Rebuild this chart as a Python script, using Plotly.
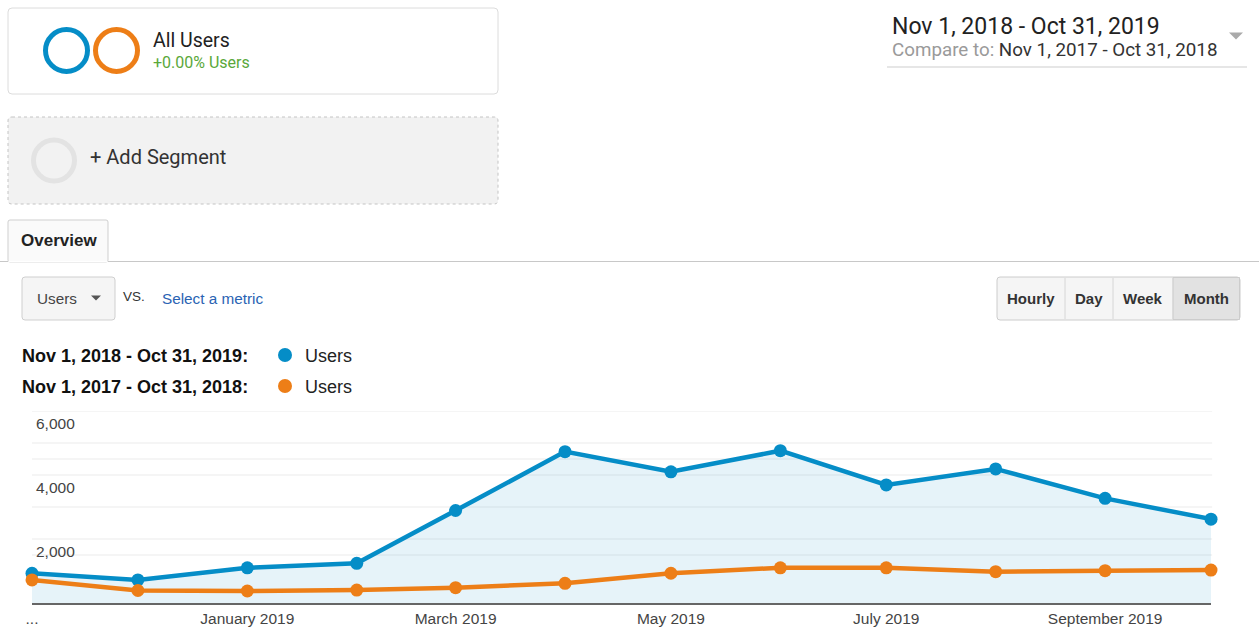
import plotly.graph_objects as go

# ---------------- data ----------------
months = ["2018-11-01", "2018-12-01", "2019-01-01", "2019-02-01", "2019-03-01", "2019-04-01",
          "2019-05-01", "2019-06-01", "2019-07-01", "2019-08-01", "2019-09-01", "2019-10-01"]
users_current = [930, 720, 1100, 1240, 2890, 4730, 4100, 4760, 3690, 4190, 3270, 2620]
users_previous = [720, 390, 375, 405, 480, 615, 930, 1100, 1100, 980, 1010, 1030]

tick_dates = ["2018-11-01", "2019-01-01", "2019-03-01", "2019-05-01", "2019-07-01", "2019-09-01"]
tick_text = ["...", "January 2019", "March 2019", "May 2019", "July 2019", "September 2019"]
y_label_vals = [2000, 4000, 6000]
y_label_text = ["2,000", "4,000", "6,000"]
grid_vals = [1500, 2000, 3000, 4000, 4500, 5000, 6000]

label_current = "Nov 1, 2018 - Oct 31, 2019:"
label_previous = "Nov 1, 2017 - Oct 31, 2018:"
metric = "Users"

BLUE = "#058DC7"
ORANGE = "#ED7E17"
ARIAL = "Liberation Sans, Arial, sans-serif"
ROBOTO = "Roboto, sans-serif"

W, H = 1259, 631
L, R, T, B = 32, 1211, 411, 603
PW, PH = R - L, B - T


def PX(x):
    return (x - L) / PW


def PY(y):
    return (B - y) / PH


fig = go.Figure()

fig.add_trace(go.Scatter(
    x=months, y=users_current, mode="lines+markers", name="current",
    line=dict(color=BLUE, width=4.5), marker=dict(size=13, color=BLUE),
    fill="tozeroy", fillcolor="rgba(5,141,199,0.1)", cliponaxis=False,
    showlegend=False, hoverinfo="skip"))
fig.add_trace(go.Scatter(
    x=months, y=users_previous, mode="lines+markers", name="previous",
    line=dict(color=ORANGE, width=4.5), marker=dict(size=13, color=ORANGE),
    cliponaxis=False, showlegend=False, hoverinfo="skip"))

shapes = []
annotations = []

# gridlines in data coordinates
for gv in grid_vals:
    shapes.append(dict(type="line", xref="paper", yref="y", x0=0, x1=1.001, y0=gv, y1=gv,
                       line=dict(color="#ebebeb", width=1), layer="below"))


def rect(x0, y0, x1, y1, fill, line, lw=1, dash="solid", r=0, layer="below"):
    if r == 0:
        shapes.append(dict(type="rect", xref="paper", yref="paper",
                           x0=PX(x0), x1=PX(x1), y0=PY(y1), y1=PY(y0),
                           fillcolor=fill, line=dict(color=line, width=lw, dash=dash),
                           layer=layer))
    else:
        pts = [
            ("M", x0 + r, y0), ("L", x1 - r, y0), ("Q", (x1, y0), (x1, y0 + r)),
            ("L", x1, y1 - r), ("Q", (x1, y1), (x1 - r, y1)), ("L", x0 + r, y1),
            ("Q", (x0, y1), (x0, y1 - r)), ("L", x0, y0 + r), ("Q", (x0, y0), (x0 + r, y0)),
        ]
        p = ""
        for item in pts:
            if item[0] == "Q":
                (cx, cy), (ex, ey) = item[1], item[2]
                p += f"Q{PX(cx)},{PY(cy)} {PX(ex)},{PY(ey)} "
            else:
                p += f"{item[0]}{PX(item[1])},{PY(item[2])} "
        p += "Z"
        shapes.append(dict(type="path", xref="paper", yref="paper", path=p,
                           fillcolor=fill, line=dict(color=line, width=lw, dash=dash),
                           layer=layer))


def line(x0, y0, x1, y1, color, lw=1):
    shapes.append(dict(type="line", xref="paper", yref="paper",
                       x0=PX(x0), x1=PX(x1), y0=PY(y0), y1=PY(y1),
                       line=dict(color=color, width=lw), layer="below"))


def circle(cx, cy, r, color, lw=0, fill=None):
    shapes.append(dict(type="circle", xref="paper", yref="paper",
                       x0=PX(cx - r), x1=PX(cx + r), y0=PY(cy + r), y1=PY(cy - r),
                       fillcolor=fill if fill else "rgba(0,0,0,0)",
                       line=dict(color=color, width=lw), layer="above"))


def tri(cx, cy, w, h, color):
    p = f"M{PX(cx - w / 2)},{PY(cy - h / 2)} L{PX(cx + w / 2)},{PY(cy - h / 2)} L{PX(cx)},{PY(cy + h / 2)} Z"
    shapes.append(dict(type="path", xref="paper", yref="paper", path=p,
                       fillcolor=color, line=dict(width=0), layer="above"))


def text(x, y, s, size, color="#333", family=ARIAL, anchor="left", bold=False):
    if bold:
        s = f"<b>{s}</b>"
    annotations.append(dict(xref="paper", yref="paper", x=PX(x), y=PY(y), text=s,
                            showarrow=False, xanchor=anchor, yanchor="middle",
                            font=dict(size=size, color=color, family=family),
                            borderpad=0))


# --- segment box ---
rect(8, 8, 498, 94, "#ffffff", "#dcdcdc", r=4)
circle(66.5, 50.5, 21, BLUE, lw=5)
circle(116.5, 50.5, 21, ORANGE, lw=5)
text(152, 40, "All Users", 19.5, "#222", ROBOTO)
text(152, 62, "+0.00% Users", 16, "#5aa83a", ROBOTO)

# --- add segment ---
rect(8, 117, 498, 204, "#f2f2f2", "#c4c4c4", dash="dot", r=4)
circle(54, 160.5, 20.5, "#e3e3e3", lw=5)
text(89, 157, "+ Add Segment", 20, "#333", ROBOTO)

# --- date range ---
text(891, 26, "Nov 1, 2018 - Oct 31, 2019", 23, "#222", ROBOTO)
text(891, 50, "<span style='color:#9a9a9a'>Compare to: </span>Nov 1, 2017 - Oct 31, 2018", 18.8, "#333", ROBOTO)
tri(1236, 36, 14, 7, "#aaaaaa")
line(887, 67, 1247, 67, "#e6e6e6", 2)

# --- overview tab ---
line(0, 261.5, 8, 261.5, "#c8c8c8", 1)
line(108, 261.5, W, 261.5, "#c8c8c8", 1)
rect(8, 220, 108, 262, "#fafafa", "#cfcfcf", r=2)
line(8.5, 261.5, 107.5, 261.5, "#ffffff", 1.5)
text(20, 240, "Overview", 17, "#222", ARIAL, bold=True)

# --- metric selector ---
rect(22, 277, 115, 320, "#f5f5f5", "#cfcfcf", r=3)
text(36, 298, metric, 15.3, "#444", ARIAL)
tri(96, 298, 10, 5, "#555555")
text(122, 296, "VS.", 13.5, "#333", ARIAL)
text(161, 298, "Select a metric", 15.3, "#2a63b3", ARIAL)

# --- granularity buttons ---
rect(997, 277, 1240, 320, "#f5f5f5", "#cccccc", r=3)
rect(1173, 277.5, 1239.5, 319.5, "#e2e2e2", "#cccccc", r=0)
for xd in [1065, 1113, 1173]:
    line(xd, 278, xd, 319, "#d6d6d6", 1)
for cx, s in [(1031, "Hourly"), (1089, "Day"), (1143, "Week"), (1206.5, "Month")]:
    text(cx, 298, s, 15, "#333", ARIAL, anchor="center", bold=True)

# --- legend ---
text(21, 356, label_current, 18, "#111", ARIAL, bold=True)
text(21, 387, label_previous, 18, "#111", ARIAL, bold=True)
circle(285, 355, 7, BLUE, lw=0, fill=BLUE)
circle(285, 386, 7, ORANGE, lw=0, fill=ORANGE)
text(304, 356, metric, 18, "#222", ARIAL)
text(304, 387, metric, 18, "#222", ARIAL)

# --- y labels (inside chart, below gridline) ---
for v, s in zip(y_label_vals, y_label_text):
    annotations.append(dict(xref="paper", yref="y", x=PX(34), y=v, text=s, showarrow=False,
                            xanchor="left", yanchor="middle", yshift=-12,
                            font=dict(size=15.5, color="#444", family=ARIAL)))

fig.update_layout(
    width=W, height=H,
    margin=dict(l=L, r=W - R, t=T, b=H - B, pad=0, autoexpand=False),
    paper_bgcolor="#ffffff", plot_bgcolor="#ffffff",
    shapes=shapes, annotations=annotations,
    xaxis=dict(type="date", range=[months[0], months[-1]], tickvals=tick_dates, ticktext=tick_text,
               showgrid=False, zeroline=False, showline=True, linecolor="#666666", linewidth=2,
               ticks="", ticklabelstandoff=0, automargin=False,
               tickfont=dict(size=15.5, color="#444", family=ARIAL), fixedrange=True),
    yaxis=dict(range=[0, 6000], showticklabels=False, showgrid=False, automargin=False,
               zeroline=False, showline=False, fixedrange=True),
    hovermode=False,
)

fig.write_html("out.html", config={"displayModeBar": False},
               post_script="document.body.style.margin='0px';document.body.style.overflow='hidden';")
